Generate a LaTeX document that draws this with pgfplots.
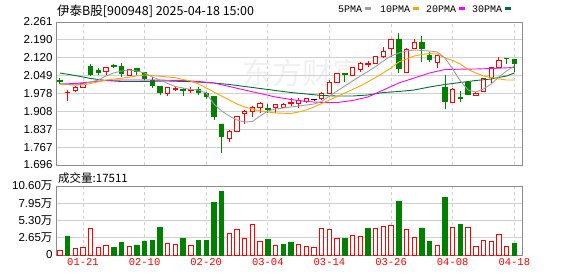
\documentclass[border=0pt]{standalone}
\usepackage{pgfplots}
\usepackage{pgfplotstable}
\pgfplotsset{compat=1.18}
\usepackage{fontspec}
\setmainfont{Liberation Sans}
\newfontfamily\cjk{Noto Sans CJK SC}
\newfontfamily\mono{Liberation Mono}

\definecolor{kred}{RGB}{255,0,0}
\definecolor{kgreen}{RGB}{0,128,0}
\definecolor{cma5}{RGB}{158,158,158}
\definecolor{cma10}{RGB}{255,165,0}
\definecolor{cma20}{RGB}{255,0,255}
\definecolor{cma30}{RGB}{0,112,48}
\definecolor{gridc}{RGB}{208,208,208}
\definecolor{framec}{RGB}{140,140,140}

% red (rising) candles: body top, body bottom, high, low
\pgfplotstableread{
i hi lo H L
1 1.984 1.981 1.992 1.949
2 2.004 1.990 2.008 1.986
3 2.020 2.004 2.024 2.002
6 2.083 2.064 2.083 2.050
9 2.075 2.050 2.077 2.048
14 2.004 1.980 2.004 1.969
15 1.998 1.994 2.006 1.990
17 1.994 1.990 2.006 1.980
22 1.828 1.799 1.834 1.787
23 1.886 1.830 1.890 1.830
24 1.909 1.901 1.913 1.858
25 1.925 1.909 1.929 1.886
26 1.941 1.923 1.945 1.901
28 1.937 1.923 1.937 1.903
29 1.937 1.925 1.941 1.921
30 1.945 1.941 1.961 1.929
31 1.953 1.939 1.961 1.921
32 1.957 1.947 1.961 1.941
34 1.980 1.957 1.984 1.953
35 2.024 1.980 2.030 1.980
36 2.056 2.024 2.056 2.024
38 2.083 2.048 2.083 2.048
39 2.099 2.075 2.103 2.063
40 2.099 2.095 2.107 2.083
41 2.123 2.097 2.123 2.095
42 2.146 2.123 2.162 2.119
43 2.194 2.158 2.194 2.123
45 2.154 2.063 2.158 2.060
46 2.182 2.158 2.192 2.154
49 2.127 2.103 2.127 2.079
51 1.996 1.945 2.000 1.943
54 1.980 1.969 1.986 1.969
55 2.036 1.988 2.036 1.986
56 2.083 2.040 2.085 2.020
57 2.111 2.083 2.123 2.083
}\redc

% green (falling) candles
\pgfplotstableread{
i hi lo H L
0 2.030 2.025 2.040 2.016
4 2.087 2.052 2.097 2.046
5 2.071 2.060 2.079 2.052
7 2.088 2.085 2.095 2.079
8 2.087 2.056 2.099 2.044
10 2.077 2.065 2.081 2.050
11 2.060 2.038 2.063 2.032
12 2.032 2.010 2.042 2.000
13 2.008 1.984 2.008 1.971
16 1.994 1.990 2.000 1.969
18 1.996 1.984 2.004 1.973
19 1.980 1.965 1.984 1.957
20 1.965 1.886 1.969 1.874
21 1.858 1.807 1.858 1.743
27 1.919 1.915 1.937 1.901
37 2.056 2.052 2.058 2.024
44 2.194 2.079 2.218 2.060
47 2.182 2.156 2.206 2.103
48 2.127 2.115 2.142 2.103
50 2.004 1.949 2.052 1.917
52 1.963 1.959 1.988 1.945
53 2.024 1.976 2.028 1.976
58 2.118 2.116 2.119 2.095
59 2.115 2.099 2.115 2.063
}\greenc

\pgfplotstableread{
i v
0 2.0180
1 2.0141
2 2.0121
3 2.0160
4 2.0239
5 2.0318
6 2.0477
7 2.0595
8 2.0674
9 2.0714
10 2.0674
11 2.0595
12 2.0437
13 2.0318
14 2.0180
15 2.0062
16 2.0002
17 1.9943
18 1.9923
19 1.9805
20 1.9370
21 1.9094
22 1.8896
23 1.8738
24 1.8659
25 1.8679
26 1.8896
27 1.9094
28 1.9173
29 1.9212
30 1.9252
31 1.9291
32 1.9331
33 1.9370
34 1.9469
35 1.9686
36 1.9884
37 2.0081
38 2.0279
39 2.0477
40 2.0654
41 2.0852
42 2.1069
43 2.1267
44 2.1385
45 2.1464
46 2.1504
47 2.1484
48 2.1464
49 2.1425
50 2.1188
51 2.0753
52 2.0279
53 1.9923
54 1.9844
55 1.9963
56 2.0160
57 2.0437
58 2.0674
59 2.0872
}\maFive

\pgfplotstableread{
i v
0 2.0141
2 2.0121
3 2.0121
4 2.0180
5 2.0251
6 2.0318
8 2.0385
10 2.0477
11 2.0516
12 2.0496
14 2.0437
15 2.0409
16 2.0338
17 2.0279
18 2.0160
19 2.0002
20 1.9844
21 1.9686
22 1.9528
23 1.9370
24 1.9252
25 1.9173
26 1.9094
28 1.9015
30 1.8995
31 1.9054
32 1.9133
33 1.9252
35 1.9528
37 1.9805
39 2.0081
41 2.0417
43 2.0793
44 2.1030
45 2.1148
46 2.1267
47 2.1326
48 2.1366
49 2.1346
50 2.1188
51 2.1089
52 2.0951
53 2.0733
54 2.0595
55 2.0477
56 2.0417
57 2.0358
58 2.0318
59 2.0318
}\maTen

\pgfplotstableread{
i v
0 2.0160
2 2.0180
4 2.0239
6 2.0299
8 2.0318
12 2.0318
16 2.0299
18 2.0259
20 2.0200
22 2.0062
24 1.9923
26 1.9785
28 1.9647
30 1.9548
32 1.9469
34 1.9429
36 1.9429
38 1.9508
40 1.9647
42 1.9923
44 2.0200
46 2.0397
48 2.0595
50 2.0733
52 2.0745
54 2.0753
56 2.0773
58 2.0800
59 2.0812
}\maTwenty

\pgfplotstableread{
i v
0 2.0595
2 2.0496
4 2.0378
6 2.0299
8 2.0259
10 2.0259
14 2.0279
17 2.0251
20 2.0200
22 2.0141
24 2.0062
26 1.9983
28 1.9904
30 1.9824
32 1.9765
34 1.9706
36 1.9686
38 1.9686
40 1.9726
42 1.9824
44 1.9864
46 1.9923
48 2.0042
50 2.0141
52 2.0220
54 2.0299
56 2.0358
58 2.0477
59 2.0595
}\maThirty

% volume (10k shares)
\pgfplotstableread{
i v
0 0.77
2 1.02
3 1.13
4 4.10
5 1.18
6 1.48
9 1.28
14 1.79
15 1.69
17 1.54
22 3.33
23 3.94
24 2.56
25 4.76
26 2.15
28 1.54
31 1.69
32 1.38
33 1.23
34 4.10
35 3.94
36 2.56
38 3.07
39 2.92
41 4.10
42 4.45
43 4.61
45 3.94
46 2.71
49 1.48
51 4.25
53 4.25
54 1.38
55 2.30
56 2.15
57 3.17
58 1.38
}\volr

\pgfplotstableread{
i v
1 2.81
7 1.13
8 1.89
10 1.54
11 2.05
12 2.30
13 4.20
16 2.61
18 2.20
19 2.30
20 8.03
21 9.83
27 2.46
29 1.69
30 2.00
37 2.56
40 4.10
44 8.30
47 4.15
48 2.15
50 8.91
52 4.76
59 1.75
}\volg

\pgfplotsset{
  kaxis/.style={scale only axis, width=466pt, height=143pt,
    xmin=-0.5, xmax=60, ymin=1.696, ymax=2.261,
    at={(0pt,0pt)}, anchor=south west},
  ovl/.style={kaxis, hide axis},
}

\begin{document}
\begin{tikzpicture}
\useasboundingbox (-56pt,-111pt) rectangle (522pt,165pt);

% watermark
\node[font=\cjk\fontsize{30}{30}\selectfont, text=black!6] at (246pt,92pt) {东方财富};

% frame, grid, wicks
\begin{axis}[kaxis,
  axis line style={framec, line width=0.8pt},
  xtick={3,11,19,27,35,43,51,59}, xticklabels={,,,,,,,},
  ytick={1.696,1.766625,1.83725,1.907875,1.9785,2.049125,2.11975,2.190375,2.261},
  yticklabels={1.696,1.767,1.837,1.908,1.978,2.049,2.120,2.190,2.261},
  major tick length=0pt,
  xmajorgrids, ymajorgrids,
  x grid style={gridc, dash pattern=on 3pt off 3pt, line width=0.8pt},
  y grid style={gridc, line width=0.8pt},
  yticklabel style={font=\fontsize{11.5}{12}\selectfont, text=black},
]
\addplot[kred, line width=0.8pt, quiver={u=0, v=\thisrow{H}-\thisrow{L}}] table[x=i, y=L] {\redc};
\addplot[kgreen, line width=0.8pt, quiver={u=0, v=\thisrow{H}-\thisrow{L}}] table[x=i, y=L] {\greenc};
\addplot[black, line width=0.8pt] coordinates {(33,1.955) (33,1.947)};
\end{axis}

% red bodies
\begin{axis}[ovl, ybar stacked, bar width=4.4pt]
\addplot[draw=none, fill=none] table[x=i, y=lo] {\redc};
\addplot[draw=kred, fill=white, line width=0.9pt] table[x=i, y expr=\thisrow{hi}-\thisrow{lo}] {\redc};
\end{axis}

% green bodies
\begin{axis}[ovl, ybar stacked, bar width=4.4pt]
\addplot[draw=none, fill=none] table[x=i, y=lo] {\greenc};
\addplot[draw=kgreen, fill=kgreen, line width=0.9pt] table[x=i, y expr=\thisrow{hi}-\thisrow{lo}] {\greenc};
\end{axis}

% moving averages
\begin{axis}[ovl]
\addplot[cma30, line width=0.9pt] table[x=i, y=v] {\maThirty};
\addplot[cma20, line width=0.9pt] table[x=i, y=v] {\maTwenty};
\addplot[cma10, line width=0.9pt] table[x=i, y=v] {\maTen};
\addplot[cma5, line width=0.9pt] table[x=i, y=v] {\maFive};
\addplot[black, only marks, mark=-, mark size=2.6pt, mark options={line width=0.9pt}] coordinates {(33,1.955)};
\end{axis}

% volume
\begin{axis}[scale only axis, width=466pt, height=69pt,
  xmin=-0.5, xmax=60, ymin=0, ymax=10.6,
  at={(0pt,-21pt)}, anchor=north west,
  axis line style={framec, line width=0.8pt},
  xtick={3,11,19,27,35,43,51,59},
  xticklabels={01-21,02-10,02-20,03-04,03-14,03-26,04-08,04-18},
  xticklabel style={font=\mono\fontsize{10.5}{11}\selectfont, text=kred},
  ytick={0,2.65,5.3,7.95,10.6},
  yticklabels={0,2.65{\cjk 万},5.30{\cjk 万},7.95{\cjk 万},10.60{\cjk 万}},
  yticklabel style={font=\fontsize{11.5}{12}\selectfont, text=black},
  major tick length=0pt,
  xmajorgrids, ymajorgrids,
  x grid style={gridc, dash pattern=on 3pt off 3pt, line width=0.8pt},
  y grid style={gridc, line width=0.8pt},
]
\addplot[ybar, bar width=4.4pt, bar shift=0pt, draw=kred, fill=white, line width=0.9pt] table[x=i, y=v] {\volr};
\addplot[ybar, bar width=4.4pt, bar shift=0pt, draw=kgreen, fill=kgreen, line width=0.9pt] table[x=i, y=v] {\volg};
\end{axis}

% title, legend, volume caption
\node[anchor=base west, inner sep=0pt, font=\cjk\fontsize{12.5}{13}\selectfont] at (1pt,149pt) {伊泰B股[900948] 2025-04-18 15:00};
\node[anchor=base west, inner sep=0pt, font=\mono\fontsize{10}{10}\selectfont] at (282pt,152pt) {5PMA};
\fill[cma5] (309pt,155pt) rectangle (315pt,158pt);
\node[anchor=base west, inner sep=0pt, font=\mono\fontsize{10}{10}\selectfont] at (324pt,152pt) {10PMA};
\fill[cma10] (357pt,155pt) rectangle (363pt,158pt);
\node[anchor=base west, inner sep=0pt, font=\mono\fontsize{10}{10}\selectfont] at (370pt,152pt) {20PMA};
\fill[cma20] (403pt,155pt) rectangle (409pt,158pt);
\node[anchor=base west, inner sep=0pt, font=\mono\fontsize{10}{10}\selectfont] at (416pt,152pt) {30PMA};
\fill[cma30] (449pt,155pt) rectangle (455pt,158pt);
\node[anchor=base west, inner sep=0pt, font=\cjk\fontsize{11.5}{12}\selectfont] at (2pt,-17pt) {成交量:17511};
\end{tikzpicture}
\end{document}
